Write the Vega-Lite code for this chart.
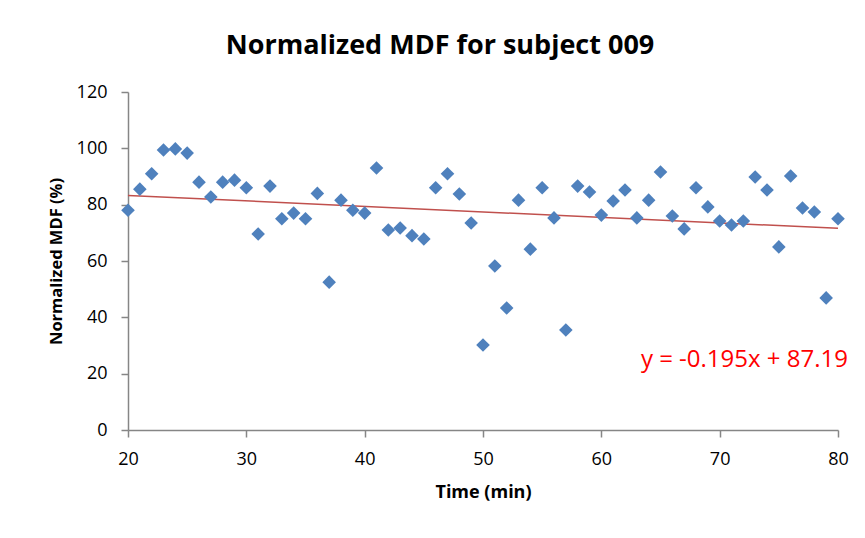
{
  "$schema": "https://vega.github.io/schema/vega-lite/v6.json",
  "autosize": "none",
  "width": 710,
  "height": 338,
  "padding": {"left": 128, "top": 92, "right": 27, "bottom": 108},
  "background": "white",
  "title": {
    "text": "Normalized MDF for subject 009",
    "anchor": "middle",
    "frame": "group",
    "dx": -43,
    "offset": 23,
    "font": "Open Sans",
    "fontSize": 27,
    "fontWeight": "bold",
    "color": "#000000"
  },
  "config": {
    "view": {"stroke": null},
    "axis": {
      "grid": false,
      "domainColor": "#868686",
      "tickColor": "#868686",
      "domainWidth": 1.5,
      "tickWidth": 1.5,
      "tickSize": 7,
      "labelFont": "Open Sans",
      "labelFontSize": 18,
      "labelColor": "#000000",
      "labelFlush": false,
      "titleFont": "Open Sans",
      "titleFontWeight": "bold",
      "titleColor": "#000000"
    }
  },
  "datasets": {
    "pts": [
      {"t": 20, "mdf": 78}, {"t": 21, "mdf": 85.5}, {"t": 22, "mdf": 91}, {"t": 23, "mdf": 99.4},
      {"t": 24, "mdf": 99.8}, {"t": 25, "mdf": 98.3}, {"t": 26, "mdf": 88}, {"t": 27, "mdf": 82.7},
      {"t": 28, "mdf": 88}, {"t": 29, "mdf": 88.7}, {"t": 30, "mdf": 86}, {"t": 31, "mdf": 69.6},
      {"t": 32, "mdf": 86.6}, {"t": 33, "mdf": 75}, {"t": 34, "mdf": 77}, {"t": 35, "mdf": 75},
      {"t": 36, "mdf": 84}, {"t": 37, "mdf": 52.5}, {"t": 38, "mdf": 81.6}, {"t": 39, "mdf": 78},
      {"t": 40, "mdf": 77}, {"t": 41, "mdf": 93}, {"t": 42, "mdf": 71}, {"t": 43, "mdf": 71.7},
      {"t": 44, "mdf": 69}, {"t": 45, "mdf": 67.8}, {"t": 46, "mdf": 86}, {"t": 47, "mdf": 91},
      {"t": 48, "mdf": 83.8}, {"t": 49, "mdf": 73.5}, {"t": 50, "mdf": 30.2}, {"t": 51, "mdf": 58.2},
      {"t": 52, "mdf": 43.3}, {"t": 53, "mdf": 81.6}, {"t": 54, "mdf": 64.2}, {"t": 55, "mdf": 86},
      {"t": 56, "mdf": 75.3}, {"t": 57, "mdf": 35.5}, {"t": 58, "mdf": 86.6}, {"t": 59, "mdf": 84.5},
      {"t": 60, "mdf": 76.3}, {"t": 61, "mdf": 81.3}, {"t": 62, "mdf": 85.2}, {"t": 63, "mdf": 75.3},
      {"t": 64, "mdf": 81.6}, {"t": 65, "mdf": 91.6}, {"t": 66, "mdf": 76}, {"t": 67, "mdf": 71.4},
      {"t": 68, "mdf": 86}, {"t": 69, "mdf": 79.2}, {"t": 70, "mdf": 74.2}, {"t": 71, "mdf": 72.8},
      {"t": 72, "mdf": 74.2}, {"t": 73, "mdf": 89.8}, {"t": 74, "mdf": 85.2}, {"t": 75, "mdf": 65},
      {"t": 76, "mdf": 90.2}, {"t": 77, "mdf": 78.8}, {"t": 78, "mdf": 77.4}, {"t": 79, "mdf": 46.9},
      {"t": 80, "mdf": 75}
    ],
    "fit": [
      {"t": 20, "mdf": 83.29}, {"t": 80, "mdf": 71.59}
    ],
    "eq": [
      {"t": 80, "mdf": 25, "label": "y = -0.195x + 87.19"}
    ]
  },
  "layer": [
    {
      "data": {"name": "fit"},
      "mark": {"type": "line", "color": "#C0504D", "strokeWidth": 1.5},
      "encoding": {
        "x": {"field": "t", "type": "quantitative", "scale": {"domain": [20, 80], "nice": false}, "axis": {"values": [20, 30, 40, 50, 60, 70, 80], "title": "Time (min)", "titleFontSize": 18, "titlePadding": 15, "labelPadding": 13}},
        "y": {"field": "mdf", "type": "quantitative", "scale": {"domain": [0, 120], "nice": false}, "axis": {"values": [0, 20, 40, 60, 80, 100, 120], "title": "Normalized MDF (%)", "titleFontSize": 16.5, "titlePadding": 12, "labelPadding": 14}}
      }
    },
    {
      "data": {"name": "pts"},
      "mark": {"type": "point", "shape": "diamond", "filled": true, "size": 185, "color": "#4F81BD", "opacity": 1},
      "encoding": {
        "x": {"field": "t", "type": "quantitative"},
        "y": {"field": "mdf", "type": "quantitative"}
      }
    },
    {
      "data": {"name": "eq"},
      "mark": {"type": "text", "align": "right", "baseline": "middle", "dx": 10, "font": "Open Sans", "fontSize": 24, "color": "#FF0000"},
      "encoding": {
        "x": {"field": "t", "type": "quantitative"},
        "y": {"field": "mdf", "type": "quantitative"},
        "text": {"field": "label"}
      }
    }
  ]
}
